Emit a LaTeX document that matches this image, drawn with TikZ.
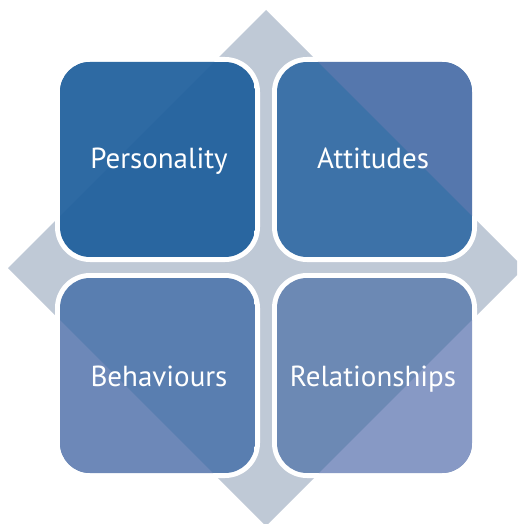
\documentclass[tikz,border=0pt]{standalone}
\usepackage{fontspec}
\setmainfont{PT Sans}
\definecolor{diam}{RGB}{191,201,214}
\definecolor{pIn}{RGB}{41,102,160}
\definecolor{pOut}{RGB}{46,106,163}
\definecolor{aIn}{RGB}{61,114,168}
\definecolor{aOut}{RGB}{85,119,173}
\definecolor{bIn}{RGB}{89,126,176}
\definecolor{bOut}{RGB}{109,136,184}
\definecolor{rIn}{RGB}{108,137,180}
\definecolor{rOut}{RGB}{135,153,197}
\tikzset{
  frame/.style={fill=white, rounded corners=35pt},
  inner box/.style={rounded corners=30pt},
  label text/.style={text=white, font=\fontsize{29}{33}\selectfont, anchor=base, inner sep=0pt}
}
\begin{document}
\begin{tikzpicture}[x=1pt,y=-1pt]
\useasboundingbox (0,0) rectangle (517,524);
\clip (0,0) rectangle (517,524);
\fill[diam] (266,10) -- (524,268) -- (266,526) -- (8,268) -- cycle;
% Personality
\fill[frame] (55,57) rectangle (260,262);
\begin{scope}
\clip[inner box] (60,62) rectangle (255,257);
\fill[pIn] (60,62) rectangle (255,257);
\fill[pOut] (0,0) -- (276,0) -- (0,276) -- cycle;
\end{scope}
% Attitudes
\fill[frame] (272,57) rectangle (477,262);
\begin{scope}
\clip[inner box] (277,62) rectangle (472,257);
\fill[aIn] (277,62) rectangle (472,257);
\fill[aOut] (256,0) -- (700,0) -- (700,444) -- cycle;
\end{scope}
% Behaviours
\fill[frame] (55,273) rectangle (260,478);
\begin{scope}
\clip[inner box] (60,278) rectangle (255,473);
\fill[bIn] (60,278) rectangle (255,473);
\fill[bOut] (0,260) -- (0,700) -- (440,700) -- cycle;
\end{scope}
% Relationships
\fill[frame] (272,273) rectangle (477,478);
\begin{scope}
\clip[inner box] (277,278) rectangle (472,473);
\fill[rIn] (277,278) rectangle (472,473);
\fill[rOut] (792,0) -- (792,792) -- (0,792) -- cycle;
\end{scope}
\node[label text] (personality) at (159,168) {Personality};
\node[label text] (attitudes) at (373,168) {Attitudes};
\node[label text] (behaviours) at (159,386) {Behaviours};
\node[label text] (relationships) at (373,386) {Relationships};
\end{tikzpicture}
\end{document}
